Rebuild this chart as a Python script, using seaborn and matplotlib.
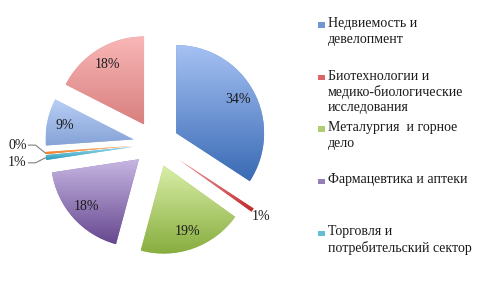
import numpy as np
import seaborn as sns
import matplotlib.pyplot as plt
from matplotlib.patches import Rectangle

sns.set_theme(style="white")
plt.rcParams["font.family"] = ["Liberation Serif", "DejaVu Serif"]

# sector shares, %
values = [34.2, 0.7, 19.3, 18.4, 0.9, 0.4, 8.6, 17.5]
# light (top) and dark (bottom) colour of each slice gradient
tops = ["#a6c1f3", "#f4a3a3", "#d7eea6", "#c6b6e2", "#a2dff0", "#fcc495", "#b8cef5", "#f9b7b7"]
bottoms = ["#3a6bb5", "#c0282b", "#88ad3f", "#674890", "#2b9cbc", "#ef7a1f", "#86a2d6", "#d98080"]
explode = [0.26, 0.33, 0.26, 0.26, 0.26, 0.26, 0.26, 0.26]

legend_labels = [
    "Недвиемость и\nдевелопмент",
    "Биотехнологии и\nмедико-биологические\nисследования",
    "Металургия  и горное\nдело",
    "Фармацевтика и аптеки",
    "Торговля и\nпотребительский сектор",
]

mids = [sns.blend_palette([t, b], 3)[1] for t, b in zip(tops, bottoms)]

W, H = 480, 288
fig = plt.figure(figsize=(W / 100, H / 100), dpi=100)
R = 88.0          # pie radius in px
cx, cy = 156, 144 # pie centre in px (from top-left)
ax = fig.add_axes([0, 0, 2 * cx / W, 1])

wedges, texts, autotexts = ax.pie(
    values, explode=explode, startangle=90, counterclock=False, colors=mids,
    autopct=lambda p: f"{p:.0f}%" if p >= 5 else "", pctdistance=0.8,
    wedgeprops=dict(linewidth=0),
    textprops=dict(fontsize=10, color="#1a1a1a"),
)

# vertical gradient inside each slice
for w, t, b in zip(wedges, tops, bottoms):
    bb = w.get_path().get_extents()
    grad = np.array(sns.blend_palette([t, b], n_colors=64))[:, :3][:, None, :]
    im = ax.imshow(grad, extent=[bb.x0, bb.x1, bb.y0, bb.y1], aspect="auto",
                   interpolation="bilinear", zorder=1.5)
    im.set_clip_path(w)

# labels of the tiny slices
for i, w in enumerate(wedges):
    if values[i] >= 5:
        continue
    ang = np.deg2rad((w.theta1 + w.theta2) / 2)
    d = np.array([np.cos(ang), np.sin(ang)])
    ox, oy = w.center
    pct = f"{values[i]:.0f}%"
    if d[0] > 0:
        ax.text(ox + 1.12 * d[0], oy + 1.12 * d[1], pct, ha="center", va="center",
                fontsize=10, color="#1a1a1a", zorder=3)
    else:
        tx, ty = ox + d[0], oy + d[1]
        ly = ty + (0.09 if i == 5 else -0.06)
        ax.plot([-1.45, -1.37, tx], [ly, ly, ty], color="#7f7f7f", lw=0.8, zorder=2)
        ax.text(-1.47, ly, pct, ha="right", va="center", fontsize=10,
                color="#1a1a1a", zorder=3)

ax.set_aspect("equal")
ax.set_xlim(-cx / R, cx / R)
ax.set_ylim(-(H - cy) / R, cy / R)
ax.axis("off")

# legend (first five entries fit in the box)
y0, step = 25, 52
for k, lab in enumerate(legend_labels):
    yc = y0 + k * step
    fig.add_artist(Rectangle((318 / W, 1 - (yc + 2.5) / H), 7 / W, 5 / H,
                             transform=fig.transFigure, color=mids[k], lw=0))
    fig.text(328 / W, 1 - (yc - 7.5) / H, lab, ha="left", va="top", fontsize=10,
             color="#1a1a1a", linespacing=1.2)

fig.savefig("out.png", dpi=100)
